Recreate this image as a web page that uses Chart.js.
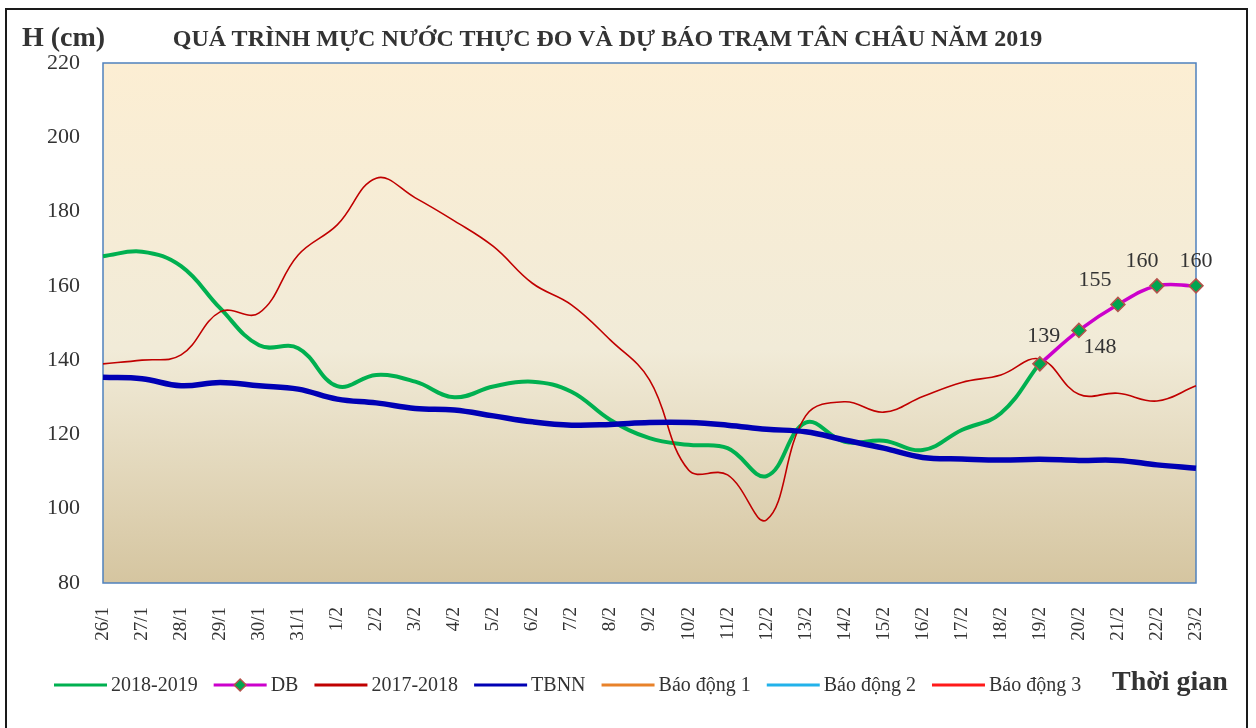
<!DOCTYPE html>
<html>
<head>
<meta charset="utf-8">
<script src="https://cdn.jsdelivr.net/npm/chart.js@4.4.1/dist/chart.umd.min.js"></script>
<style>
    html, body { margin: 0; padding: 0; background: #fff; width: 1256px; height: 728px; overflow: hidden; }
    #wrap { position: relative; width: 1256px; height: 728px; }
    #frame { position: absolute; left: 5px; top: 8px; width: 1243px; height: 760px; border: 2px solid #1a1a1a; box-sizing: border-box; }
    #waterChart { position: absolute; left: 0; top: 0; }
    .lbl { position: absolute; font-family: 'Liberation Serif', 'Times New Roman', serif; color: #333; font-weight: bold; white-space: nowrap; }
</style>
</head>
<body>
<div id="wrap">
    <div id="frame"></div>
    <canvas id="waterChart" width="1256" height="728"></canvas>
    <div class="lbl" style="left:22px; top:21px; font-size:28px;">H (cm)</div>
    <div class="lbl" style="left:0; width:1215px; text-align:center; top:25px; font-size:24px;">QUÁ TRÌNH MỰC NƯỚC THỰC ĐO VÀ DỰ BÁO TRẠM TÂN CHÂU NĂM 2019</div>
    <div class="lbl" style="left:1112px; top:665px; font-size:28px;">Thời gian</div>
</div>
<script>
const labels = ['26/1', '27/1', '28/1', '29/1', '30/1', '31/1',
    '1/2', '2/2', '3/2', '4/2', '5/2', '6/2', '7/2', '8/2', '9/2', '10/2', '11/2', '12/2',
    '13/2', '14/2', '15/2', '16/2', '17/2', '18/2', '19/2', '20/2', '21/2', '22/2', '23/2'];

const yTicks = [80, 100, 120, 140, 160, 180, 200, 220];

// mực nước thực đo 2018-2019 (đến 19/2)
const h2018_2019 = [168, 169.2, 165.3, 154, 144, 143.2, 133, 136, 134.2, 130, 132.9, 134.2, 131.5,
    123.9, 119, 117.2, 116.3, 108.8, 123.2, 118, 118.3, 115.8, 121.2, 125.7, 139.2,
    null, null, null, null];

// dự báo
const dbForecast = [null, null, null, null, null, null, null, null, null, null, null, null,
    null, null, null, null, null, null, null, null, null, null, null, null,
    139, 148, 155, 160, 160];

const h2017_2018 = [139, 140, 141.4, 153, 152.7, 168.3, 176.4, 189, 183.7, 177.5, 170.6, 160.7, 154.9,
    145.4, 134.7, 110.4, 109.1, 97, 125, 128.8, 126, 130.2, 134, 136, 140.3, 130.8, 131.1, 129, 133.1];

const tbnn = [135.4, 135, 133.1, 134, 133.1, 132.2, 129.5, 128.5, 127, 126.6, 125, 123.4, 122.5,
    122.7, 123.2, 123.2, 122.5, 121.4, 120.7, 118.5, 116.3, 113.8, 113.4, 113.1, 113.3, 113, 113, 111.8, 110.9];

// báo động 1-3 nằm ngoài khoảng trục, không thấy trên hình
const alarm1 = [];
const alarm2 = [];
const alarm3 = [];

const serif = "'Liberation Serif', 'Times New Roman', serif";

// nền gradient + khung vùng vẽ
const plotBackground = {
    id: 'plotBackground',
    beforeDatasetsDraw(chart) {
        const {ctx, chartArea: a} = chart;
        const g = ctx.createLinearGradient(0, a.top, 0, a.bottom);
        g.addColorStop(0, '#FCEED3');
        g.addColorStop(0.55, '#F1EBD8');
        g.addColorStop(1, '#D5C5A0');
        ctx.save();
        ctx.fillStyle = g;
        ctx.fillRect(a.left, a.top, a.right - a.left, a.bottom - a.top);
        ctx.strokeStyle = '#4F81BD';
        ctx.lineWidth = 1.5;
        ctx.strokeRect(a.left, a.top, a.right - a.left, a.bottom - a.top);
        ctx.restore();
    }
};

// nhãn giá trị cho đường dự báo
const dbLabelOffsets = [[4, -28], [21, 17], [-23, -24], [-15, -25], [0, -25]];
const forecastLabels = {
    id: 'forecastLabels',
    afterDatasetsDraw(chart) {
        const ctx = chart.ctx;
        const meta = chart.getDatasetMeta(1);
        ctx.save();
        ctx.font = '22px ' + serif;
        ctx.fillStyle = '#333';
        ctx.textAlign = 'center';
        ctx.textBaseline = 'middle';
        let k = 0;
        dbForecast.forEach((v, i) => {
            if (v === null) return;
            const p = meta.data[i];
            const off = dbLabelOffsets[k++] || [0, -25];
            ctx.fillText(String(v), p.x + off[0], p.y + off[1]);
        });
        ctx.restore();
    }
};

function drawDiamond(ctx, x, y, r) {
    ctx.beginPath();
    ctx.moveTo(x, y - r);
    ctx.lineTo(x + r, y);
    ctx.lineTo(x, y + r);
    ctx.lineTo(x - r, y);
    ctx.closePath();
    ctx.fillStyle = '#00A550';
    ctx.fill();
    ctx.strokeStyle = '#B5524B';
    ctx.lineWidth = 1.5;
    ctx.stroke();
}

// chú thích phía dưới
const bottomLegend = {
    id: 'bottomLegend',
    afterDraw(chart) {
        const ctx = chart.ctx;
        let x = 54;
        const y = 685;
        ctx.save();
        ctx.font = '20px ' + serif;
        ctx.textBaseline = 'middle';
        chart.data.datasets.forEach(ds => {
            ctx.strokeStyle = ds.borderColor;
            ctx.lineWidth = 3;
            ctx.beginPath();
            ctx.moveTo(x, y);
            ctx.lineTo(x + 53, y);
            ctx.stroke();
            if (ds.pointStyle === 'rectRot') drawDiamond(ctx, x + 26.5, y, 6);
            x += 57;
            ctx.fillStyle = '#333';
            ctx.fillText(ds.label, x, y + 1);
            x += ctx.measureText(ds.label).width + 16;
        });
        ctx.restore();
    }
};

const waterChart = new Chart(document.getElementById('waterChart'), {
    type: 'line',
    data: {
        labels: labels,
        datasets: [{
            label: '2018-2019',
            data: h2018_2019,
            borderColor: '#00B050',
            borderWidth: 4,
            pointRadius: 0,
            order: 5
        }, {
            label: 'DB',
            data: dbForecast,
            borderColor: '#CC00CC',
            borderWidth: 3.5,
            pointStyle: 'rectRot',
            pointRadius: 7,
            pointBackgroundColor: '#00A550',
            pointBorderColor: '#B5524B',
            pointBorderWidth: 1.5,
            clip: 12,
            order: 1
        }, {
            label: '2017-2018',
            data: h2017_2018,
            borderColor: '#C00000',
            borderWidth: 1.6,
            pointRadius: 0,
            order: 4
        }, {
            label: 'TBNN',
            data: tbnn,
            borderColor: '#0000B4',
            borderWidth: 5.5,
            pointRadius: 0,
            order: 3
        }, {
            label: 'Báo động 1',
            data: alarm1,
            borderColor: '#E8822A',
            borderWidth: 2,
            pointRadius: 0
        }, {
            label: 'Báo động 2',
            data: alarm2,
            borderColor: '#22B2EA',
            borderWidth: 2,
            pointRadius: 0
        }, {
            label: 'Báo động 3',
            data: alarm3,
            borderColor: '#FF1A1A',
            borderWidth: 2,
            pointRadius: 0
        }]
    },
    options: {
        responsive: false,
        animation: false,
        layout: { padding: { top: 63, right: 60, bottom: 65, left: 0 } },
        elements: { line: { tension: 0.4, fill: false } },
        plugins: {
            legend: { display: false },
            title: { display: false },
            tooltip: { enabled: false }
        },
        scales: {
            x: {
                offset: false,
                grid: { display: false, drawTicks: false },
                border: { display: false },
                ticks: {
                    autoSkip: false,
                    minRotation: 90,
                    maxRotation: 90,
                    padding: 24,
                    color: '#333',
                    font: { family: serif, size: 19 }
                },
                afterFit: (scale) => { scale.height = 80; }
            },
            y: {
                min: yTicks[0],
                max: yTicks[yTicks.length - 1],
                grid: { display: false, drawTicks: false },
                border: { display: false },
                afterBuildTicks: (scale) => { scale.ticks = yTicks.map(v => ({ value: v })); },
                ticks: {
                    padding: 23,
                    color: '#333',
                    font: { family: serif, size: 22 }
                },
                afterFit: (scale) => { scale.width = 103; }
            }
        }
    },
    plugins: [plotBackground, forecastLabels, bottomLegend]
});
</script>
</body>
</html>
